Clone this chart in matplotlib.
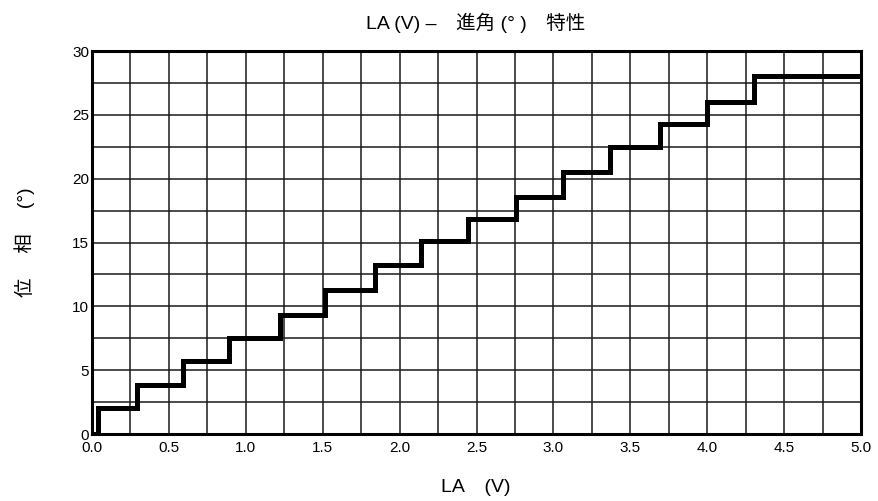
import matplotlib
matplotlib.use("Agg")
import matplotlib.pyplot as plt
import numpy as np

# LA (V) と 進角 の階段特性
plt.rcParams['font.family'] = ['Liberation Sans', 'Noto Sans CJK JP', 'DejaVu Sans']

step_x = [0.0, 0.04, 0.29, 0.59, 0.89, 1.22, 1.515, 1.84, 2.14, 2.445,
          2.755, 3.065, 3.365, 3.69, 4.0, 4.305, 5.0]
step_y = [0.0, 2.0, 3.85, 5.7, 7.5, 9.3, 11.25, 13.25, 15.1, 16.85,
          18.6, 20.55, 22.5, 24.25, 26.05, 28.05, 28.05]

x_ticks = np.arange(0, 5.01, 0.5)
y_ticks = [0, 5, 10, 15, 20, 25, 30]
x_grid = np.arange(0, 5.01, 0.25)
y_grid = np.arange(0, 30.1, 2.5)

fig = plt.figure(figsize=(8.79, 5.01), dpi=100)
ax = fig.add_axes([0.1047, 0.1337, 0.8748, 0.7643])

for gx in x_grid:
    ax.axvline(gx, color='#1a1a1a', lw=1.1, zorder=1)
for gy in y_grid:
    ax.axhline(gy, color='#1a1a1a', lw=1.1, zorder=1)

ax.step(step_x, step_y, where='post', color='black', lw=3.6, zorder=3,
        solid_joinstyle='miter')

ax.set_xlim(0, 5.0)
ax.set_ylim(0, 30)
ax.set_xticks(x_ticks)
ax.set_xticklabels(['%.1f' % v for v in x_ticks])
ax.set_yticks(y_ticks)
ax.tick_params(length=0, labelsize=11)
ax.tick_params(axis='x', pad=5)
ax.tick_params(axis='y', pad=2)
for s in ax.spines.values():
    s.set_linewidth(2.2)
    s.set_color('black')

fig.text(0.5415, 0.954, 'LA (V) \u2013\u3000進角 (° )\u3000特性', ha='center',
         va='center', fontsize=14)
fig.text(0.5415, 0.026, 'LA\u3000(V)', ha='center', va='center', fontsize=14)
fig.text(0.0285, 0.517, '位\u3000 相\u3000 (°)', ha='center', va='center',
         rotation=90, fontsize=14)

fig.savefig('out.png', dpi=100)
